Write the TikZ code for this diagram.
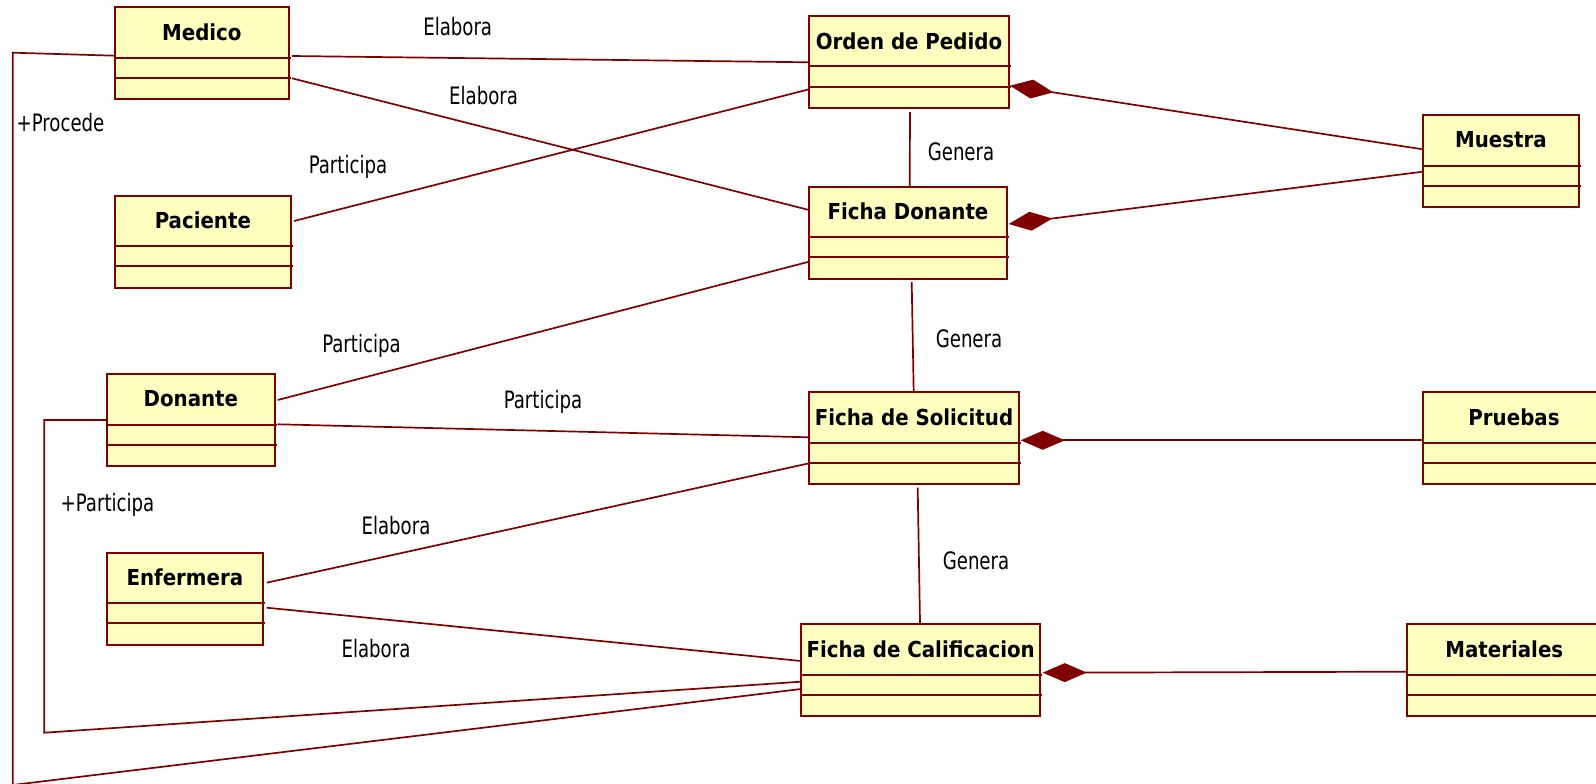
\documentclass[tikz,border=0pt]{standalone}
\usepackage{fontspec}
\usetikzlibrary{arrows.meta}
\newfontfamily\lblfont[FakeStretch=0.84]{DejaVu Sans Condensed}
\newfontfamily\ttlfont{DejaVu Sans Condensed Bold}
\definecolor{boxfill}{HTML}{FFFFC0}
\definecolor{umlred}{HTML}{800000}
\tikzset{
 classbox/.style={draw=umlred, fill=boxfill, line width=2pt, rectangle, inner sep=0pt, outer sep=0pt, minimum height=92pt, anchor=north west},
 classline/.style={draw=umlred, line width=2pt},
 classtitle/.style={font=\ttlfont\fontsize{22}{26}\selectfont, inner sep=0pt, text=black},
 conn/.style={draw=umlred, line width=1.7pt},
 comp/.style={conn, {Diamond[length=44pt,width=19pt]}-},
 lbl/.style={font=\lblfont\fontsize{24}{28}\selectfont, inner sep=0pt, text=black},
}
\newcommand\umlclass[5]{%
 \node[classbox, minimum width=#4pt] (#1) at (#2,#3) {};
 \draw[classline] ([shift={(0,50.5)}]#1.north west) -- ([shift={(2,50.5)}]#1.north east);
 \draw[classline] ([shift={(0,70.7)}]#1.north west) -- ([shift={(2,70.7)}]#1.north east);
 \node[classtitle] (#1-title) at ([shift={(0,25)}]#1.north) {#5};
}
\begin{document}
\begin{tikzpicture}[x=1pt,y=-1pt]
\fill[white] (0,0) rectangle (1596,784);
\useasboundingbox (0,0) rectangle (1596,784);
\umlclass{medico}{115}{7.3}{173.7}{Medico}
\umlclass{orden}{809}{16}{200}{Orden de Pedido}
\umlclass{paciente}{115}{195.7}{175.7}{Paciente}
\umlclass{fd}{809}{186.7}{198}{Ficha Donante}
\umlclass{muestra}{1422.7}{115}{156.3}{Muestra}
\umlclass{donante}{106.7}{374}{168.3}{Donante}
\umlclass{enfermera}{106.7}{552.7}{156.3}{Enfermera}
\umlclass{fs}{809}{392.3}{210}{Ficha de Solicitud}
\umlclass{fc}{801}{624.3}{239.3}{Ficha de Calificacion}
\umlclass{pruebas}{1422.7}{392.3}{182.6}{Pruebas}
\umlclass{materiales}{1406.7}{624.3}{195.2}{Materiales}

\draw[conn] ([shift={(3.3,48.7)}]medico.north east) -- ([shift={(0,46.3)}]orden.north west);
\node[lbl] (l1) at (457.7,26.5) {Elabora};
\draw[conn] ([shift={(3.3,71)}]medico.north east) -- ([shift={(0,23.3)}]fd.north west);
\node[lbl] (l2) at (483.6,95.7) {Elabora};
\draw[conn] ([shift={(3.3,25.3)}]paciente.north east) -- ([shift={(0,73.3)}]orden.north west);
\node[lbl] (l3) at (348,167) {Participa};
\draw[conn] ([shift={(1,4)}]orden.south) -- ([shift={(1.7,0)}]fd.north);
\node[lbl] (l4) at (961,151.7) {Genera};
\draw[comp] ([shift={(1,69.7)}]orden.north east) -- ([shift={(0,34.3)}]muestra.north west);
\draw[comp] ([shift={(1.7,37.3)}]fd.north east) -- ([shift={(0,56.7)}]muestra.north west);
\draw[conn] ([shift={(2.7,26)}]donante.north east) -- ([shift={(0,75)}]fd.north west);
\node[lbl] (l5) at (361.5,346) {Participa};
\draw[conn] ([shift={(3.7,3.4)}]fd.south) -- ([shift={(-0.3,0)}]fs.north);
\node[lbl] (l6) at (969,339) {Genera};
\draw[conn] ([shift={(2.7,50.3)}]donante.north east) -- ([shift={(0,45)}]fs.north west);
\node[lbl] (l7) at (543,402) {Participa};
\draw[comp] ([shift={(1.7,48)}]fs.north east) -- ([shift={(0,48)}]pruebas.north west);
\draw[conn] ([shift={(3.7,30)}]enfermera.north east) -- ([shift={(0,71)}]fs.north west);
\node[lbl] (l8) at (396,525.5) {Elabora};
\draw[conn] ([shift={(3.7,55)}]enfermera.north east) -- ([shift={(0,36.7)}]fc.north west);
\node[lbl] (l9) at (376,648.7) {Elabora};
\draw[conn] ([shift={(3.7,3.3)}]fs.south) -- ([shift={(-0.6,0)}]fc.north);
\node[lbl] (l10) at (976,561) {Genera};
\draw[comp] ([shift={(2.4,48.4)}]fc.north east) -- ([shift={(0,47.4)}]materiales.north west);
\draw[conn] ([shift={(0,46)}]donante.north west) -- (44.3,420) -- (44.3,732.7) -- ([shift={(0,57.4)}]fc.north west);
\node[lbl] (l11) at (107.5,505) {+Participa};
\draw[conn] ([shift={(0,48.4)}]medico.north west) -- (12.7,52.7) -- (12.7,785) -- ([shift={(0,64.7)}]fc.north west);
\node[lbl] (l12) at (60.5,122.7) {+Procede};
\end{tikzpicture}
\end{document}
